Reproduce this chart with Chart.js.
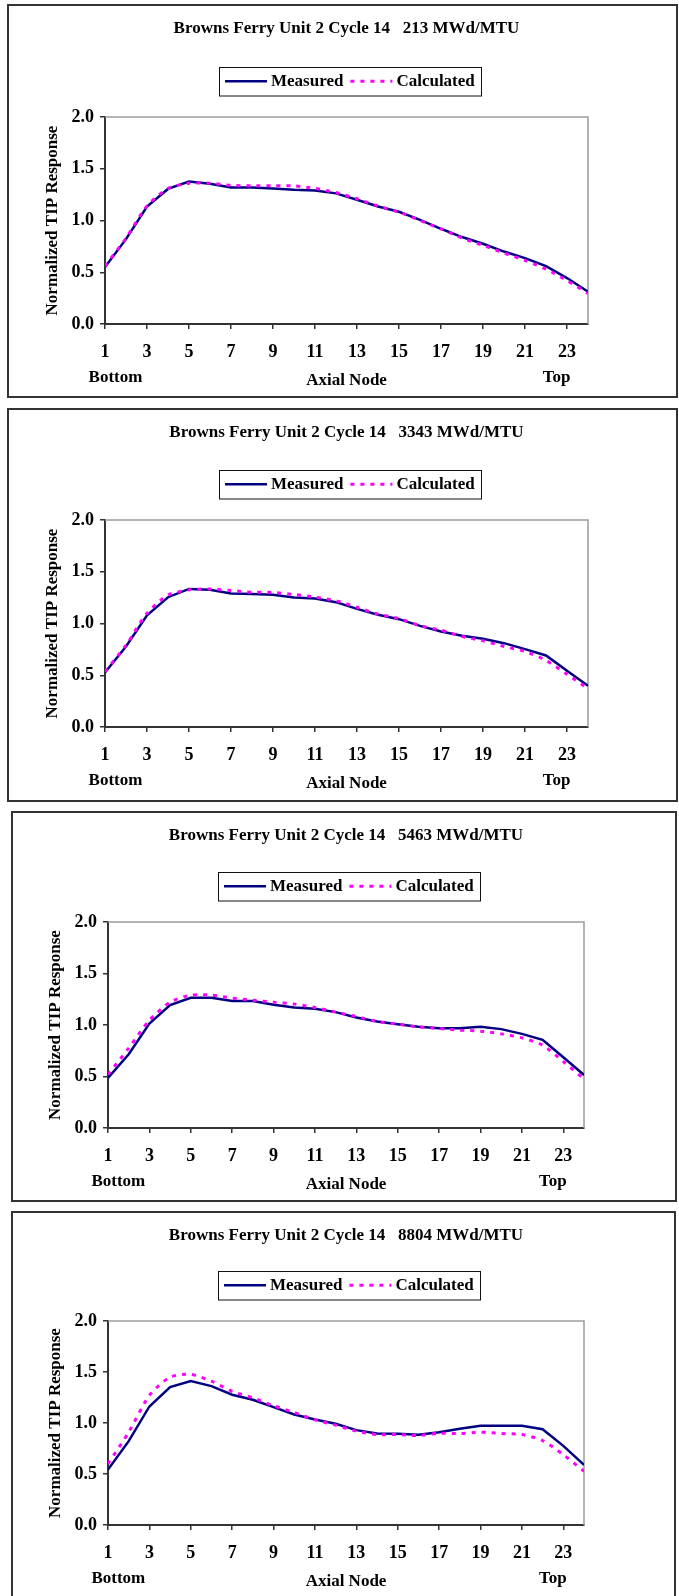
<!DOCTYPE html>
<html>
<head>
<meta charset="utf-8">
<script src="https://cdn.jsdelivr.net/npm/chart.js@4.4.1/dist/chart.umd.min.js"></script>
<style>
  html, body { margin: 0; padding: 0; background: #fff; }
  body { width: 679px; height: 1596px; position: relative; overflow: hidden; }
  .panel { position: absolute; box-sizing: border-box; border: 2px solid #333; background: #fff; }
  .panel canvas { position: absolute; left: 0; top: 0; }
</style>
</head>
<body>
<script>
const FONT = "'Liberation Serif', 'Times New Roman', serif";

// axial nodes (bottom -> top) and the labelled ticks
const nodes = [1, 2, 3, 4, 5, 6, 7, 8, 9, 10, 11, 12, 13, 14, 15, 16, 17, 18, 19, 20, 21, 22, 23, 24];
const xTicks = [1, 3, 5, 7, 9, 11, 13, 15, 17, 19, 21, 23];
const burnups = [213, 3343, 5463, 8804];

const measured213   = [0.55, 0.82, 1.135, 1.305, 1.376, 1.354, 1.32, 1.32, 1.31, 1.296, 1.29, 1.262, 1.20, 1.135, 1.084, 1.006, 0.92, 0.84, 0.775, 0.70, 0.637, 0.56, 0.444, 0.312];
const calculated213 = [0.56, 0.83, 1.14, 1.31, 1.36, 1.36, 1.34, 1.335, 1.335, 1.335, 1.31, 1.27, 1.21, 1.14, 1.08, 1.00, 0.92, 0.83, 0.76, 0.685, 0.615, 0.53, 0.42, 0.295];

const measured3343   = [0.527, 0.778, 1.08, 1.254, 1.334, 1.325, 1.289, 1.286, 1.277, 1.251, 1.241, 1.206, 1.141, 1.084, 1.042, 0.977, 0.923, 0.881, 0.852, 0.81, 0.752, 0.691, 0.543, 0.399];
const calculated3343 = [0.535, 0.79, 1.10, 1.275, 1.325, 1.334, 1.318, 1.302, 1.30, 1.28, 1.255, 1.22, 1.157, 1.09, 1.048, 0.98, 0.935, 0.875, 0.833, 0.778, 0.73, 0.643, 0.51, 0.37];

const measured5463   = [0.486, 0.716, 1.015, 1.193, 1.264, 1.264, 1.232, 1.232, 1.196, 1.17, 1.157, 1.125, 1.073, 1.034, 1.008, 0.982, 0.969, 0.969, 0.982, 0.96, 0.914, 0.856, 0.687, 0.515];
const calculated5463 = [0.52, 0.775, 1.045, 1.222, 1.29, 1.29, 1.261, 1.241, 1.222, 1.203, 1.17, 1.125, 1.083, 1.034, 1.008, 0.982, 0.966, 0.95, 0.94, 0.914, 0.875, 0.805, 0.645, 0.476];

const measured8804   = [0.543, 0.822, 1.162, 1.352, 1.411, 1.362, 1.277, 1.228, 1.156, 1.083, 1.034, 0.992, 0.93, 0.897, 0.894, 0.884, 0.91, 0.943, 0.972, 0.972, 0.972, 0.939, 0.776, 0.589];
const calculated8804 = [0.60, 0.91, 1.27, 1.45, 1.476, 1.41, 1.31, 1.247, 1.169, 1.103, 1.031, 0.979, 0.92, 0.887, 0.887, 0.877, 0.90, 0.897, 0.91, 0.897, 0.887, 0.828, 0.69, 0.527];

const measured = [measured213, measured3343, measured5463, measured8804];
const calculated = [calculated213, calculated3343, calculated5463, calculated8804];

// page frame of each panel [x, y, w, h] and its plot rect [l, t, r, b] inside the canvas
const frames = [
  { box: [7, 4, 671, 394],    plot: [96, 111, 579, 318] },
  { box: [7, 408, 671, 394],  plot: [96, 110, 579, 317] },
  { box: [11, 811, 666, 391], plot: [95, 109, 571, 315] },
  { box: [11, 1211, 665, 400], plot: [95, 108, 571, 312] },
];

// grey top/right edge of the plot area (Excel style)
const plotFrame = {
  id: 'plotFrame',
  beforeDatasetsDraw(chart) {
    const { ctx, chartArea: a } = chart;
    ctx.save();
    ctx.strokeStyle = '#9c9c9c';
    ctx.lineWidth = 1.5;
    ctx.beginPath();
    ctx.moveTo(a.left, a.top);
    ctx.lineTo(a.right, a.top);
    ctx.lineTo(a.right, a.bottom);
    ctx.stroke();
    ctx.restore();
  }
};

// legend in a box, centred above the plot
const boxLegend = {
  id: 'boxLegend',
  afterDraw(chart) {
    const { ctx, chartArea: a } = chart;
    const w = 262, h = 28.5;
    const left = Math.round((a.left + a.right) / 2 + 3 - w / 2);
    const top = Math.round(a.top - 50.5);
    const cy = top + h / 2;
    ctx.save();
    ctx.strokeStyle = '#111';
    ctx.lineWidth = 1;
    ctx.strokeRect(left + 0.5, top + 0.5, w, h);
    ctx.font = `bold 17px ${FONT}`;
    ctx.textBaseline = 'middle';
    ctx.fillStyle = '#000';
    let x = left + 6;
    chart.data.datasets.forEach(ds => {
      ctx.strokeStyle = ds.borderColor;
      ctx.lineWidth = ds.borderWidth;
      ctx.setLineDash(ds.borderDash || []);
      ctx.beginPath();
      ctx.moveTo(x, cy);
      ctx.lineTo(x + 42, cy);
      ctx.stroke();
      ctx.setLineDash([]);
      ctx.fillText(ds.label, x + 46, cy);
      x += 46 + ctx.measureText(ds.label).width + 7;
    });
    ctx.restore();
  }
};

// "Bottom" / "Top" under the ends of the node axis
const endLabels = {
  id: 'endLabels',
  afterDraw(chart) {
    const { ctx, chartArea: a, scales: { x } } = chart;
    ctx.save();
    ctx.font = `bold 17px ${FONT}`;
    ctx.textAlign = 'center';
    ctx.textBaseline = 'middle';
    ctx.fillStyle = '#000';
    ctx.fillText('Bottom', x.getPixelForValue(1.5), a.bottom + 54);
    ctx.fillText('Top', x.getPixelForValue(22.5), a.bottom + 54);
    ctx.restore();
  }
};

const tickFont = { family: FONT, size: 18, weight: 'bold' };
const labelFont = { family: FONT, size: 17, weight: 'bold' };

frames.forEach((f, i) => {
  const [bx, by, bw, bh] = f.box;
  const [pl, pt, pr, pb] = f.plot;
  const cw = bw - 4, ch = bh - 4;

  const panel = document.createElement('div');
  panel.className = 'panel';
  panel.style.cssText = `left:${bx}px;top:${by}px;width:${bw}px;height:${bh}px`;
  const cv = document.createElement('canvas');
  cv.width = cw; cv.height = ch;
  cv.style.width = cw + 'px'; cv.style.height = ch + 'px';
  panel.appendChild(cv);
  document.body.appendChild(panel);

  new Chart(cv, {
    type: 'line',
    data: {
      datasets: [
        {
          label: 'Measured',
          data: nodes.map((n, k) => ({ x: n, y: measured[i][k] })),
          borderColor: '#000080', borderWidth: 2.5,
          pointRadius: 0, tension: 0, order: 1,
        },
        {
          label: 'Calculated',
          data: nodes.map((n, k) => ({ x: n, y: calculated[i][k] })),
          borderColor: '#ff00ff', borderWidth: 3, borderDash: [4, 6],
          pointRadius: 0, tension: 0.25, order: 0,
        },
      ],
    },
    options: {
      responsive: false,
      animation: false,
      layout: { padding: { left: 0, top: 0, right: cw - pr, bottom: 0 } },
      plugins: {
        legend: { display: false },
        tooltip: { enabled: false },
        title: {
          display: true, fullSize: false,
          text: `Browns Ferry Unit 2 Cycle 14   ${burnups[i]} MWd/MTU`,
          color: '#000', font: labelFont,
          padding: { top: 12.6, bottom: pt - 33 },
        },
      },
      scales: {
        x: {
          type: 'linear', min: 1, max: 24,
          afterBuildTicks: s => { s.ticks = xTicks.map(v => ({ value: v })); },
          afterFit: s => { s.height = ch - pb; },
          grid: { drawOnChartArea: false, tickLength: 5, color: '#333', lineWidth: 1.5 },
          border: { color: '#333', width: 2 },
          ticks: { font: tickFont, color: '#000', padding: 13, maxRotation: 0, autoSkip: false, callback: v => String(v) },
          title: {
            display: true, text: 'Axial Node', color: '#000', font: labelFont,
            padding: { top: 0, bottom: (ch - pb) - 57 - 10.2 },
          },
        },
        y: {
          min: 0, max: 2,
          afterFit: s => { s.width = pl; },
          grid: { drawOnChartArea: false, tickLength: 5, color: '#333', lineWidth: 1.5 },
          border: { color: '#333', width: 2 },
          ticks: { stepSize: 0.5, font: tickFont, color: '#000', padding: 6, callback: v => v.toFixed(1) },
          title: {
            display: true, text: 'Normalized TIP Response', color: '#000', font: labelFont,
            padding: { top: pl - 52.5 - 10.2, bottom: 0 },
          },
        },
      },
    },
    plugins: [plotFrame, boxLegend, endLabels],
  });
});
</script>
</body>
</html>
